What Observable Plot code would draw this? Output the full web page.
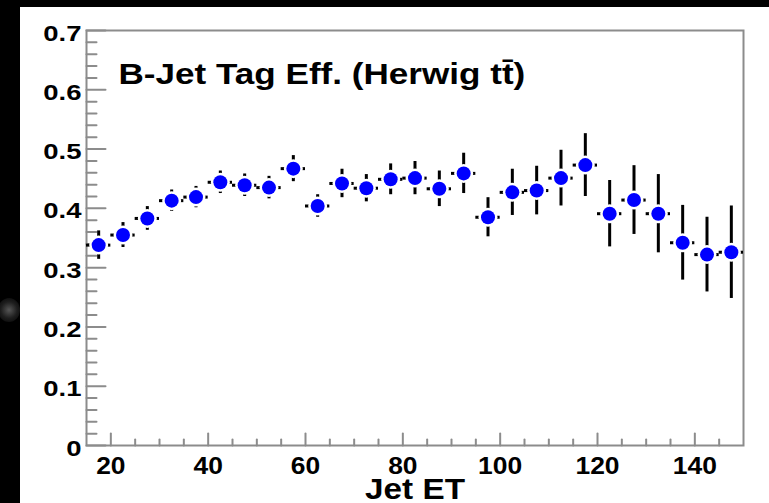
<!DOCTYPE html>
<html>
<head>
<meta charset="utf-8">
<script src="https://cdn.jsdelivr.net/npm/d3@7"></script>
<script src="https://cdn.jsdelivr.net/npm/@observablehq/plot@0.6"></script>
<style>
  html, body { margin: 0; padding: 0; background: #000; width: 769px; height: 503px; overflow: hidden; }
  #wrap { position: absolute; left: 20px; top: 7px; width: 749px; height: 496px; background: #fff; }
  #blob { position: absolute; left: -2px; top: 298px; width: 22px; height: 24px; border-radius: 50%;
          background: radial-gradient(circle, rgba(95,95,95,0.9) 0%, rgba(60,60,60,0.5) 50%, rgba(0,0,0,0) 100%); }
</style>
</head>
<body>
<div id="blob"></div>
<div id="wrap"></div>
<script>
// ---- data ----
const jetET = [17.5, 22.5, 27.5, 32.5, 37.5, 42.5, 47.5, 52.5, 57.5, 62.5, 67.5, 72.5, 77.5, 82.5,
               87.5, 92.5, 97.5, 102.5, 107.5, 112.5, 117.5, 122.5, 127.5, 132.5, 137.5, 142.5, 147.5];
const tagEff = [0.338, 0.355, 0.383, 0.413, 0.419, 0.444, 0.439, 0.435, 0.467, 0.404, 0.442, 0.434, 0.449, 0.451,
                0.433, 0.459, 0.385, 0.427, 0.430, 0.451, 0.473, 0.391, 0.414, 0.391, 0.342, 0.322, 0.326];
const tagErr = [0.024, 0.021, 0.020, 0.018, 0.018, 0.019, 0.019, 0.019, 0.022, 0.019, 0.024, 0.023, 0.026, 0.028,
                0.030, 0.034, 0.033, 0.039, 0.041, 0.047, 0.053, 0.056, 0.058, 0.066, 0.063, 0.063, 0.078];
const binHalfWidth = 2.5;
const xDomain = [15, 150];
const yDomain = [0, 0.7];
const xMajorTicks = [20, 40, 60, 80, 100, 120, 140];
const xMinorTicks = [25, 30, 35, 45, 50, 55, 65, 70, 75, 85, 90, 95, 105, 110, 115, 125, 130, 135, 145];
const yMajorTicks = [0, 0.1, 0.2, 0.3, 0.4, 0.5, 0.6, 0.7];
const yMinorTicks = [0.02, 0.04, 0.06, 0.08, 0.12, 0.14, 0.16, 0.18, 0.22, 0.24, 0.26, 0.28,
                     0.32, 0.34, 0.36, 0.38, 0.42, 0.44, 0.46, 0.48, 0.52, 0.54, 0.56, 0.58,
                     0.62, 0.64, 0.66, 0.68];
const yTickLabels = ["0", "0.1", "0.2", "0.3", "0.4", "0.5", "0.6", "0.7"];
const titleText = "B-Jet Tag Eff. (Herwig tt\u0304)";
const xLabelText = "Jet ET";

const rows = jetET.map((x, i) => ({x, y: tagEff[i], e: tagErr[i]}));

const tickShape = { draw(ctx, l) { ctx.moveTo(0, 0); ctx.lineTo(0, -l); } };
const gray = "#8c8c8c";
const font = "'Liberation Sans', Arial, Helvetica, sans-serif";

const svg = Plot.plot({
  width: 749,
  height: 496,
  marginLeft: 66,
  marginTop: 23,
  marginRight: 26,
  marginBottom: 58,
  style: { fontFamily: font, background: "transparent", overflow: "visible" },
  x: { domain: xDomain },
  y: { domain: yDomain },
  marks: [
    Plot.vector(yMajorTicks, { y: d => d, frameAnchor: "left", rotate: 90, anchor: "start", length: 19, shape: tickShape, stroke: gray, strokeWidth: 2 }),
    Plot.vector(yMinorTicks, { y: d => d, frameAnchor: "left", rotate: 90, anchor: "start", length: 10, shape: tickShape, stroke: gray, strokeWidth: 2 }),
    Plot.vector(xMajorTicks, { x: d => d, frameAnchor: "bottom", rotate: 0, anchor: "start", length: 12, shape: tickShape, stroke: gray, strokeWidth: 2 }),
    Plot.vector(xMinorTicks, { x: d => d, frameAnchor: "bottom", rotate: 0, anchor: "start", length: 6, shape: tickShape, stroke: gray, strokeWidth: 2 }),
    Plot.frame({ stroke: gray, strokeWidth: 2 }),
    Plot.axisY({ ticks: yMajorTicks, tickSize: 0, tickPadding: 5, dy: 3, label: null,
                 tickFormat: (d, i) => yTickLabels[i], fontSize: 22, fontWeight: "bold", fill: "#000" }),
    Plot.axisX({ ticks: xMajorTicks, tickSize: 0, tickPadding: 12, label: null,
                 tickFormat: d => String(d), fontSize: 23, fontWeight: "bold", fill: "#000" }),
    Plot.ruleX(rows, { x: "x", y1: d => d.y - d.e, y2: d => d.y + d.e, stroke: "#000", strokeWidth: 3 }),
    Plot.ruleY(rows, { y: "y", x1: d => d.x - binHalfWidth, x2: d => d.x + binHalfWidth, stroke: "#000", strokeWidth: 3 }),
    Plot.dot(rows, { x: "x", y: "y", r: 9.5, fill: "#fff" }),
    Plot.dot(rows, { x: "x", y: "y", r: 7, fill: "#0000ff" }),
    Plot.text([titleText], { text: d => d, frameAnchor: "top-left", dx: 32, dy: 53, textAnchor: "start", lineAnchor: "bottom",
                             fontSize: 29, fontWeight: "bold", fill: "#000" }),
    Plot.text([xLabelText], { text: d => d, frameAnchor: "bottom", dy: 53, lineAnchor: "bottom",
                              fontSize: 30, fontWeight: "bold", fill: "#000" })
  ]
});

document.getElementById("wrap").appendChild(svg);

function stretchNodes(nodes, f) {
  nodes.forEach(t => {
    const L = t.getComputedTextLength();
    if (L > 0) { t.setAttribute("textLength", (L * f).toFixed(1)); t.setAttribute("lengthAdjust", "spacingAndGlyphs"); }
  });
}
stretchNodes(svg.querySelectorAll('g[aria-label="y-axis tick label"] text'), 1.25);
stretchNodes(svg.querySelectorAll('g[aria-label="x-axis tick label"] text'), 1.15);
const textGroups = svg.querySelectorAll('g[aria-label="text"]');
if (textGroups[0]) stretchNodes(textGroups[0].querySelectorAll("text"), 1.21);
if (textGroups[1]) stretchNodes(textGroups[1].querySelectorAll("text"), 1.11);
</script>
</body>
</html>
